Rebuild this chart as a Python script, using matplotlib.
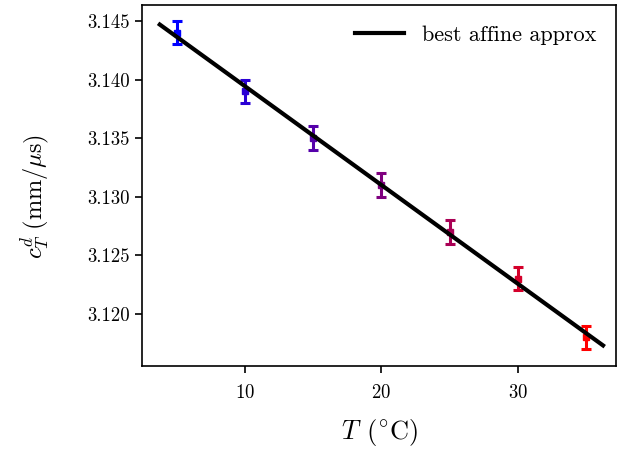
import numpy as np
import matplotlib
matplotlib.use("Agg")
import matplotlib.pyplot as plt

plt.rcParams['font.family'] = 'serif'
plt.rcParams['font.serif'] = ['cmr10']
plt.rcParams['mathtext.fontset'] = 'cm'
plt.rcParams['axes.unicode_minus'] = False
plt.rcParams['axes.formatter.use_mathtext'] = True

temps = [5, 10, 15, 20, 25, 30, 35]
speeds = [3.144, 3.139, 3.135, 3.131, 3.127, 3.123, 3.118]
errors = [0.001, 0.001, 0.001, 0.001, 0.001, 0.001, 0.001]
colors = ['#0000ff', '#2a00d4', '#5500aa', '#7f007f', '#aa0055', '#d4002a', '#ff0000']
fit_range = [3.75, 36.25]
yticks = [3.120, 3.125, 3.130, 3.135, 3.140, 3.145]
xticks = [10, 20, 30]

fig, ax = plt.subplots(figsize=(6.37, 4.5), dpi=100)

slope, intercept = np.polyfit(temps, speeds, 1)
xs = np.array(fit_range)
ax.plot(xs, slope * xs + intercept, color='black', lw=3, label='best affine approx', zorder=3)

for t, s, e, c in zip(temps, speeds, errors, colors):
    ax.errorbar(t, s, yerr=e, fmt='s', color=c, ms=4, elinewidth=2.2,
                capsize=3.3, capthick=2.2, zorder=2)

ax.set_xlim(2.45, 37.2)
ax.set_ylim(3.11556, 3.14637)
ax.set_xticks(xticks)
ax.set_yticks(yticks)
ax.set_yticklabels([f'{v:.3f}' for v in yticks])
ax.tick_params(labelsize=13.5, width=1.2, length=5)
ax.tick_params(axis='x', pad=8)
ax.tick_params(axis='y', pad=4)
for sp in ax.spines.values():
    sp.set_linewidth(1.2)

ax.set_xlabel(r'$T\;\,(^{\circ}\mathrm{C})$', fontsize=19, labelpad=11)
ax.set_ylabel(r'$c_T^d\ (\mathrm{mm}/\mu\mathrm{s})$', fontsize=17.5)
ax.yaxis.set_label_coords(-0.19, 0.47)
ax.legend(loc='upper right', frameon=False, fontsize=16, handlelength=2.2)

fig.subplots_adjust(left=0.223, right=0.967, top=0.989, bottom=0.187)
fig.savefig('out.png', dpi=100)
